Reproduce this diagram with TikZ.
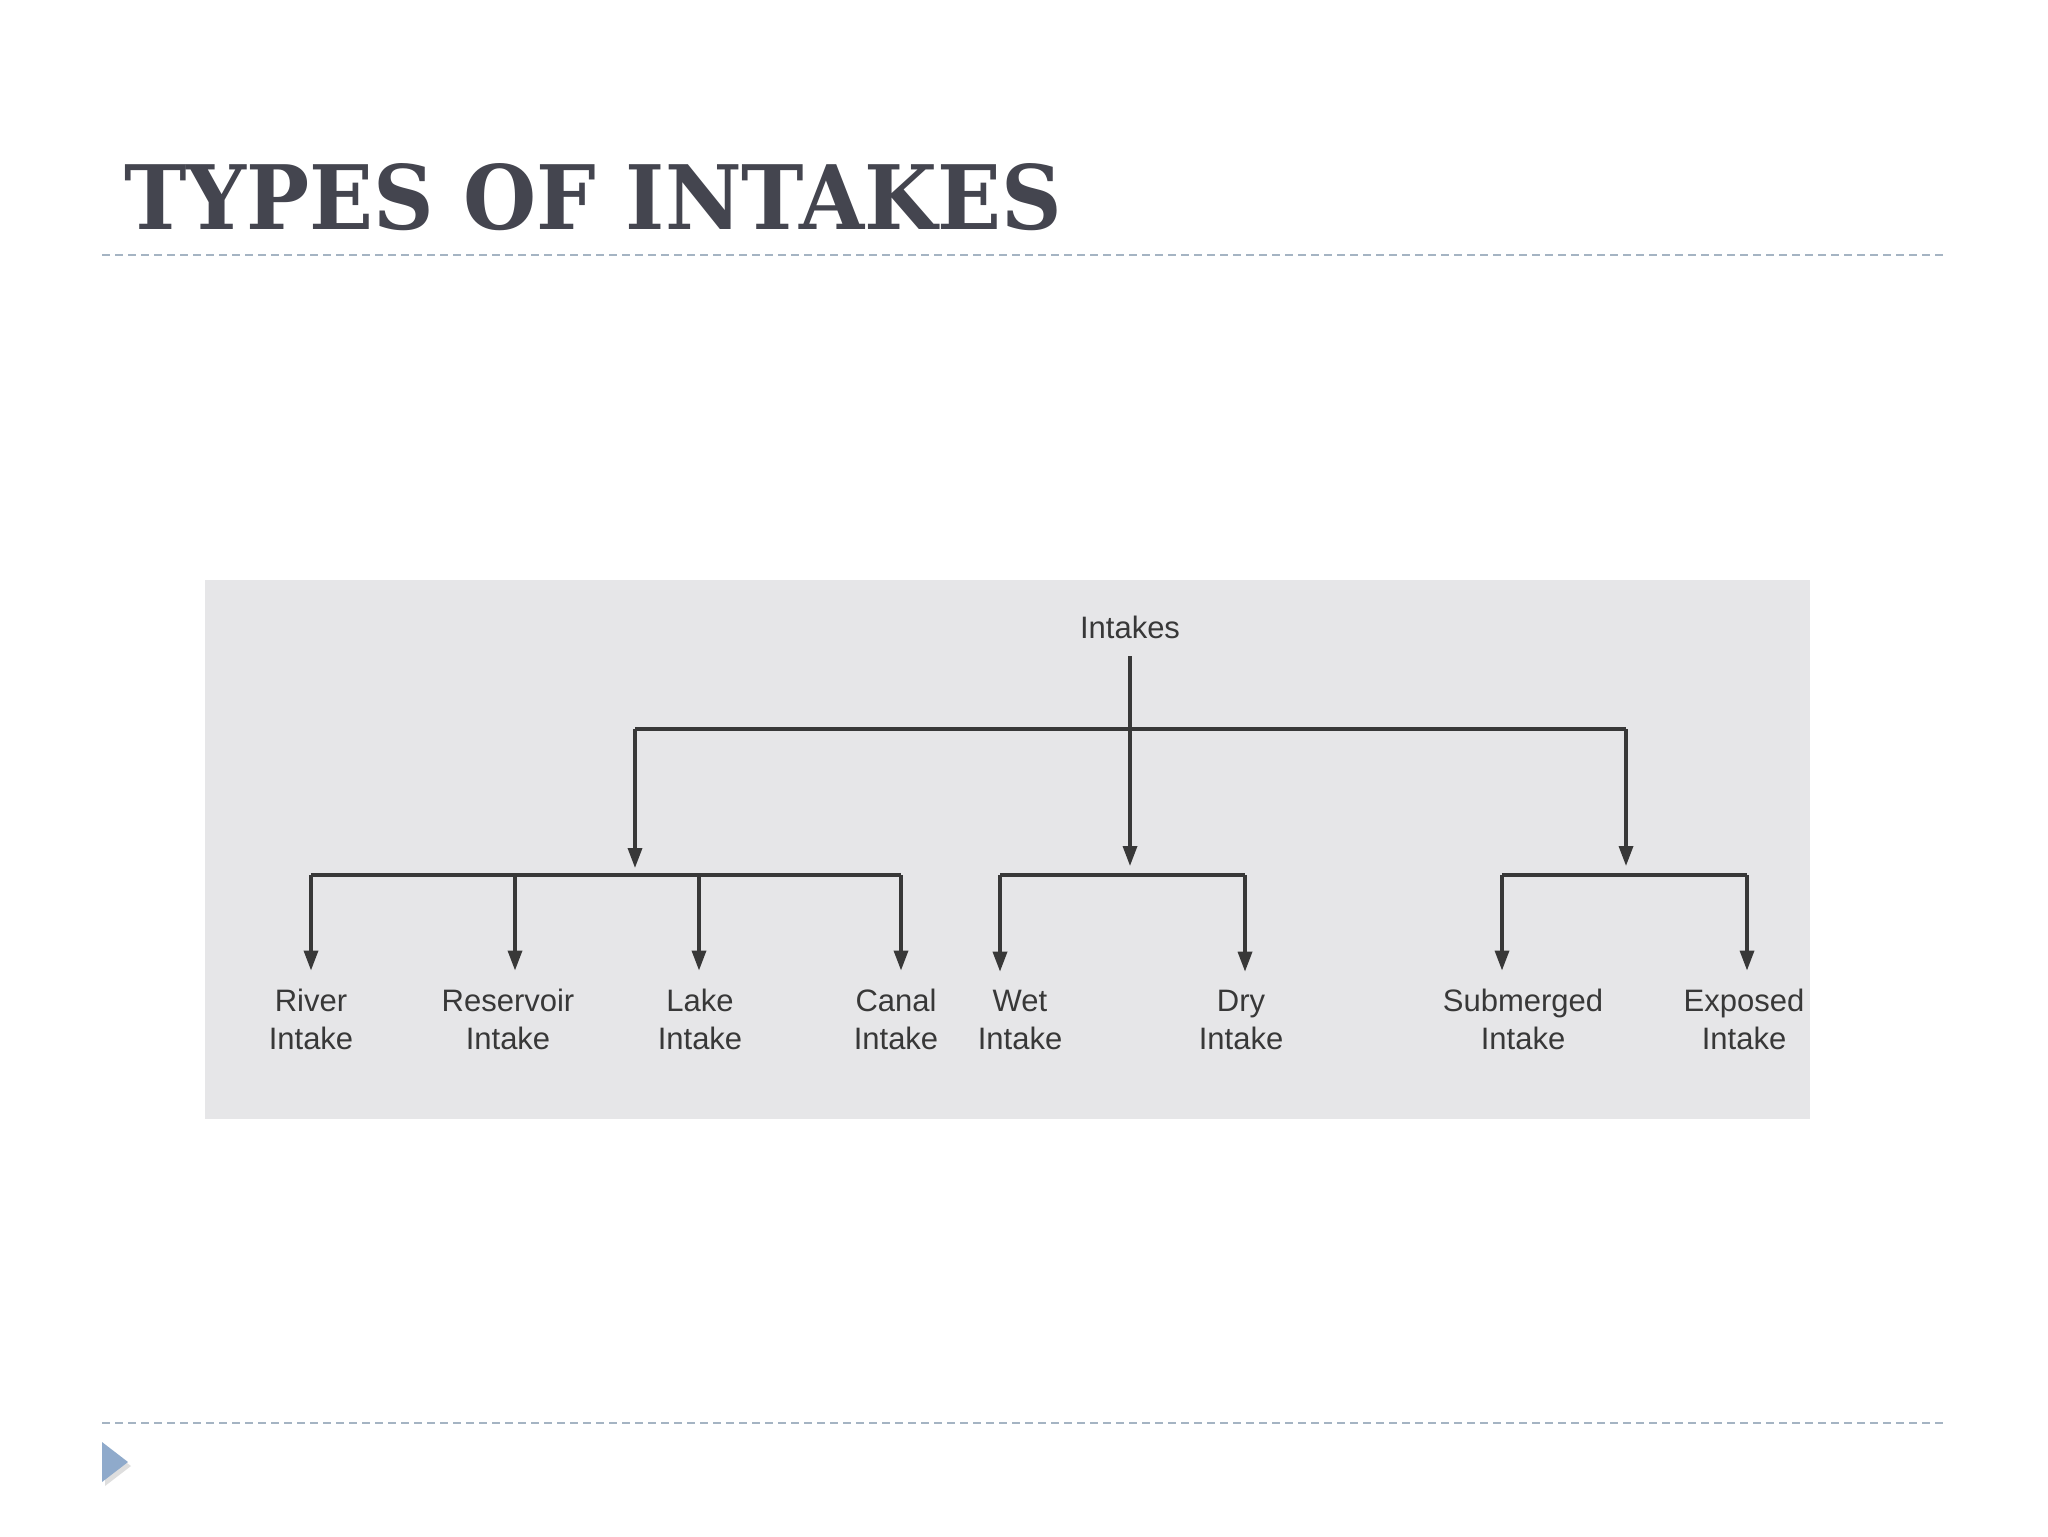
\documentclass[tikz,border=0pt]{standalone}
\usepackage{fontspec}
\setmainfont{Liberation Sans}
\newfontfamily\titlefont{DejaVu Serif}
\usetikzlibrary{arrows.meta}
\definecolor{titlec}{HTML}{44454F}
\definecolor{dashc}{HTML}{A5B4C3}
\definecolor{tric}{HTML}{8FAACB}
\definecolor{boxc}{HTML}{E6E6E8}
\definecolor{linec}{HTML}{383838}
\tikzset{
  lab/.style={font=\fontsize{15.5pt}{19pt}\selectfont, align=center, inner sep=0pt, outer ysep=9pt, text=linec},
  bar/.style={draw=linec, line width=1.7pt},
  arr/.style={draw=linec, line width=1.7pt, -{Triangle[length=10pt,width=7pt]}},
  sep/.style={draw=dashc, line width=1pt, dash pattern=on 4pt off 2.5pt}
}
\begin{document}
\begin{tikzpicture}[x=0.5pt,y=-0.5pt]
\useasboundingbox (0,0) rectangle (2048,1536);
\fill[white] (0,0) rectangle (2048,1536);
% title
\node[anchor=base west, inner sep=0pt, text=titlec] (title) at (124,229)
  {\resizebox{469pt}{33pt}{\titlefont\bfseries TYPES OF INTAKES}};
% separators
\coordinate (s1a) at (102,255); \coordinate (s1b) at (1946,255);
\coordinate (s2a) at (102,1423); \coordinate (s2b) at (1946,1423);
\draw[sep] (s1a) -- (s1b);
\draw[sep] (s2a) -- (s2b);
% bullet triangle
\fill[black!25, opacity=0.5] (105,1446) -- (105,1486) -- (131,1466) -- cycle;
\fill[tric] (102,1442) -- (102,1482) -- (128,1462) -- cycle;
% diagram panel
\fill[boxc] (205,580) rectangle (1810,1119);
% nodes
\node[lab, anchor=base] (root) at (1130,638) {Intakes};
\node[lab, anchor=base] (river) at (311,1049) {River\\Intake};
\node[lab, anchor=base] (res) at (508,1049) {Reservoir\\Intake};
\node[lab, anchor=base] (lake) at (700,1049) {Lake\\Intake};
\node[lab, anchor=base] (canal) at (896,1049) {Canal\\Intake};
\node[lab, anchor=base] (wet) at (1020,1049) {Wet\\Intake};
\node[lab, anchor=base] (dry) at (1241,1049) {Dry\\Intake};
\node[lab, anchor=base] (sub) at (1523,1049) {Submerged\\Intake};
\node[lab, anchor=base] (exp) at (1744,1049) {Exposed\\Intake};
% level 1
\coordinate (topL) at (635,729);
\coordinate (topR) at (1626,729);
\coordinate (gL) at (635,868);
\coordinate (gM) at (1130,866);
\coordinate (gR) at (1626,866);
\draw[bar] (topL) -- (topR);
\draw[arr] (root.south) -- (gM);
\draw[arr] (topL) -- (gL);
\draw[arr] (topR) -- (gR);
% level 2 bars
\coordinate (riverT) at (311,875);
\coordinate (resT) at (515,875);
\coordinate (lakeT) at (699,875);
\coordinate (canalT) at (901,875);
\coordinate (wetT) at (1000,875);
\coordinate (dryT) at (1245,875);
\coordinate (subT) at (1502,875);
\coordinate (expT) at (1747,875);
\draw[bar] (riverT) -- (canalT);
\draw[bar] (wetT) -- (dryT);
\draw[bar] (subT) -- (expT);
\draw[arr] (riverT) -- (riverT |- river.north);
\draw[arr] (resT) -- (resT |- res.north);
\draw[arr] (lakeT) -- (lakeT |- lake.north);
\draw[arr] (canalT) -- (canalT |- canal.north);
\draw[arr] (wetT) -- (wetT |- wet.north);
\draw[arr] (dryT) -- (dryT |- dry.north);
\draw[arr] (subT) -- (subT |- sub.north);
\draw[arr] (expT) -- (expT |- exp.north);
\end{tikzpicture}
\end{document}
